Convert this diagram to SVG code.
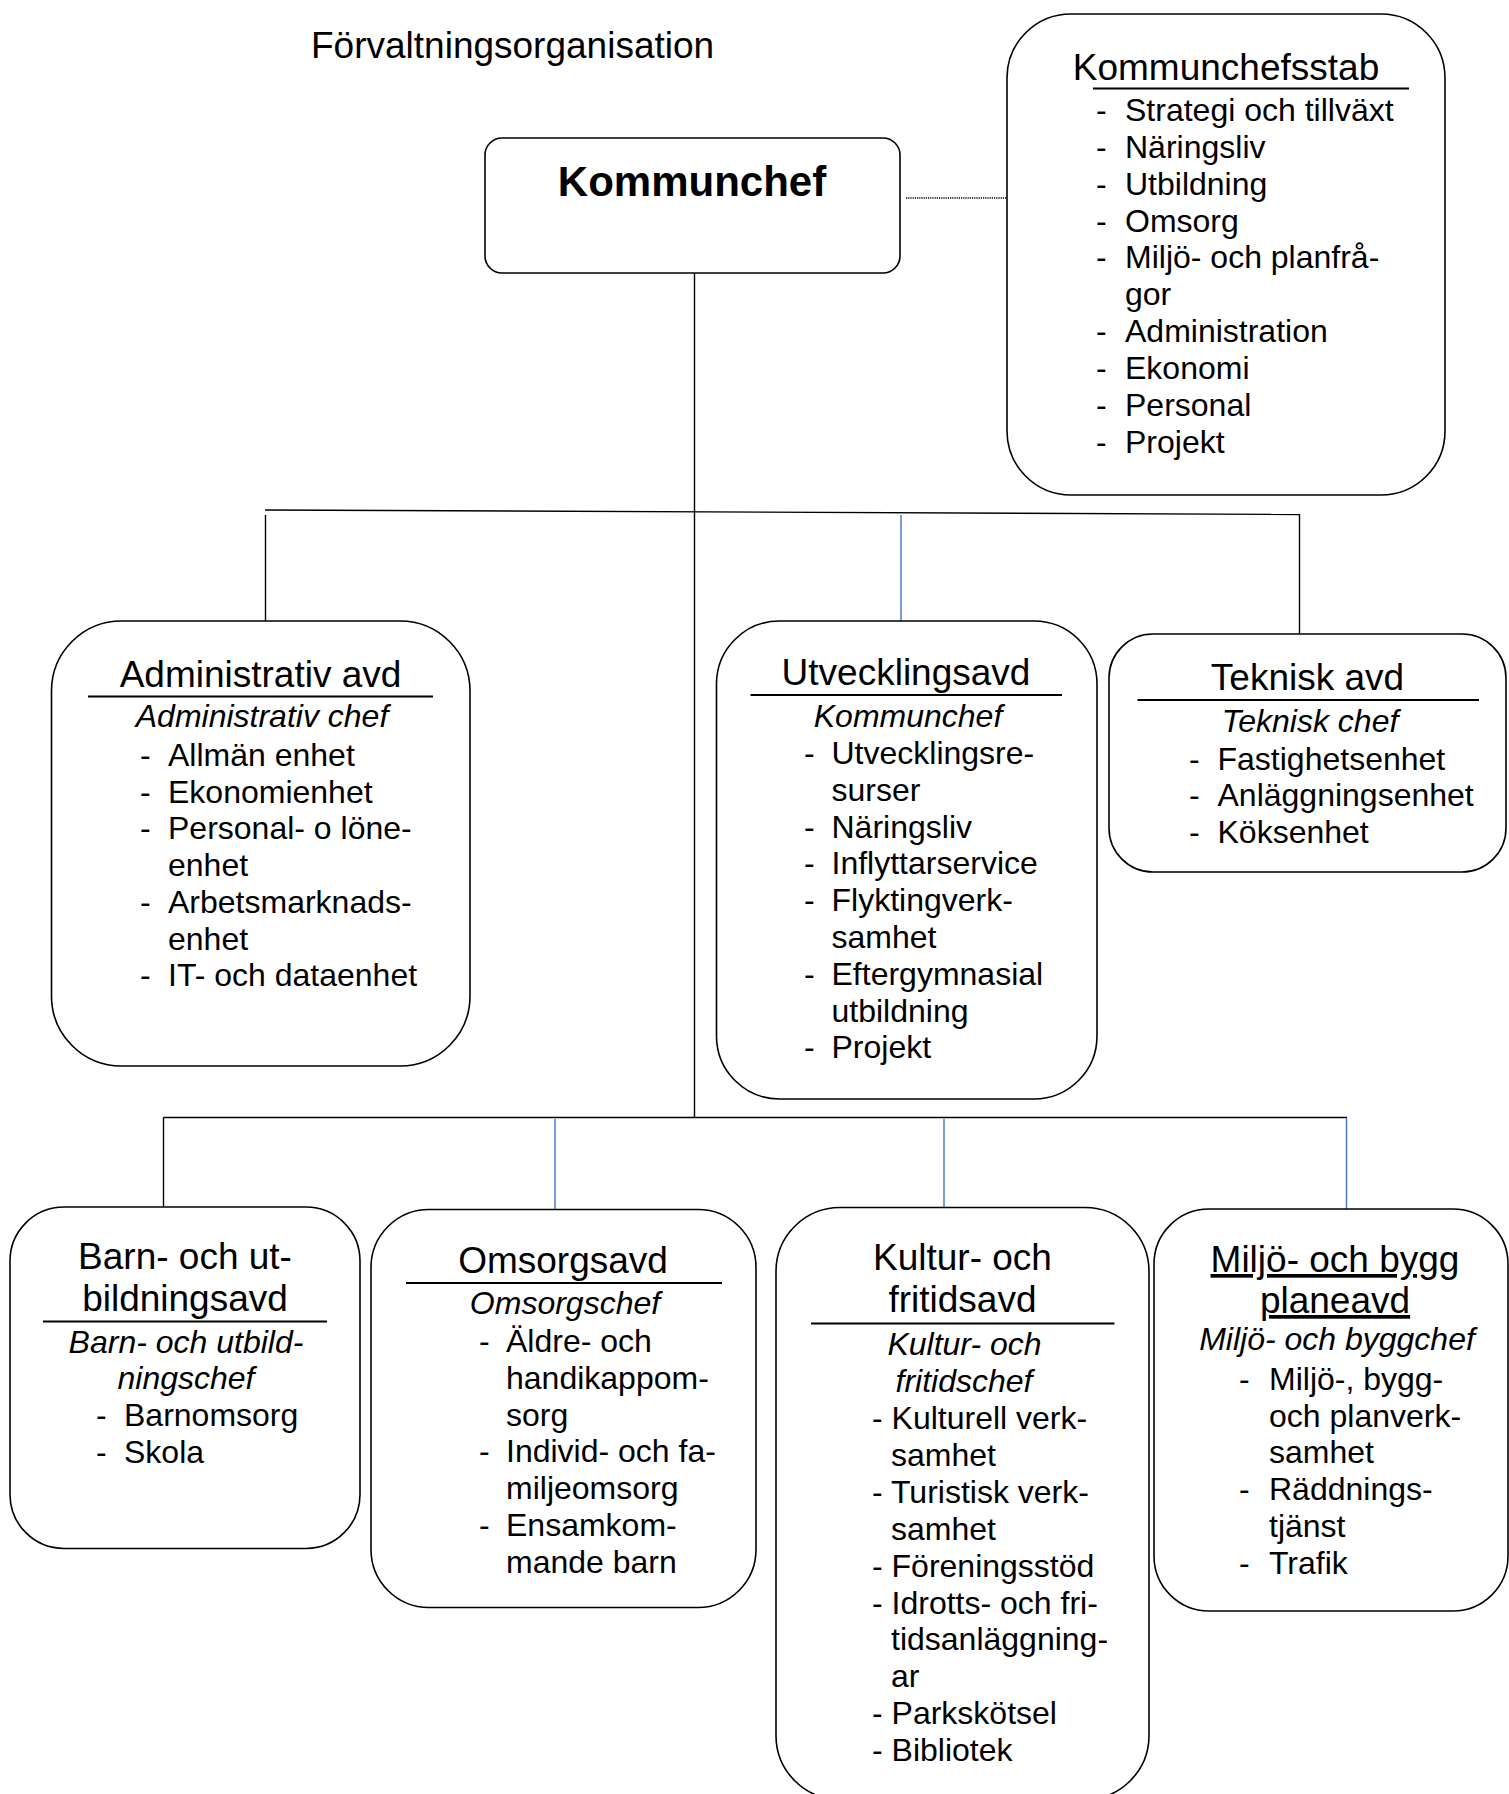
<svg xmlns="http://www.w3.org/2000/svg" width="1509" height="1794" viewBox="0 0 1509 1794">
<style>
text{font-family:"Liberation Sans",Arial,sans-serif;fill:#000}
.box{fill:#fff;stroke:#000;stroke-width:1.6}
.h{font-size:37px;text-anchor:middle}
.ch{font-size:32px;font-style:italic;text-anchor:middle}
.it{font-size:32px}
.ul{stroke:#000;stroke-width:2}
.k{stroke:#000;stroke-width:1.4;fill:none}
.b{stroke:#4472C4;stroke-width:1.4;fill:none}
</style>
<rect width="1509" height="1794" fill="#fff"/>
<text x="311" y="58" style="font-size:37px">Förvaltningsorganisation</text>

<g id="connectors">
<line class="k" x1="694.5" y1="273" x2="694.5" y2="1118"/>
<line class="k" x1="265" y1="510" x2="1300" y2="514.5"/>
<line class="k" x1="265.5" y1="515" x2="265.5" y2="621"/>
<line class="b" x1="901" y1="515" x2="901" y2="621"/>
<line class="k" x1="1299.5" y1="514.5" x2="1299.5" y2="634"/>
<line class="k" x1="163.5" y1="1117.5" x2="1347" y2="1117.5"/>
<line class="k" x1="163.5" y1="1117.5" x2="163.5" y2="1207"/>
<line class="b" x1="555" y1="1119" x2="555" y2="1209"/>
<line class="b" x1="944" y1="1119" x2="944" y2="1207"/>
<line class="b" x1="1346.5" y1="1118" x2="1346.5" y2="1220"/>
<line x1="906" y1="198" x2="1007" y2="198" stroke="#000" stroke-width="1.5" stroke-dasharray="1.2 1"/>
</g>

<g id="kommunchef">
<rect class="box" x="485" y="138" width="415" height="135" rx="17"/>
<text x="692" y="196" style="font-size:42px;font-weight:bold;text-anchor:middle">Kommunchef</text>
</g>

<g id="kommunchefsstab">
<rect class="box" x="1007" y="14" width="438" height="481" rx="64"/>
<text class="h" x="1226" y="80">Kommunchefsstab</text>
<line class="ul" x1="1093" y1="88.5" x2="1409" y2="88.5"/>
<g class="it">
<text x="1096" y="121">-</text><text x="1125" y="121">Strategi och tillväxt</text>
<text x="1096" y="158">-</text><text x="1125" y="158">Näringsliv</text>
<text x="1096" y="195">-</text><text x="1125" y="195">Utbildning</text>
<text x="1096" y="232">-</text><text x="1125" y="232">Omsorg</text>
<text x="1096" y="268">-</text><text x="1125" y="268">Miljö- och planfrå-</text>
<text x="1125" y="305">gor</text>
<text x="1096" y="342">-</text><text x="1125" y="342">Administration</text>
<text x="1096" y="379">-</text><text x="1125" y="379">Ekonomi</text>
<text x="1096" y="416">-</text><text x="1125" y="416">Personal</text>
<text x="1096" y="453">-</text><text x="1125" y="453">Projekt</text>
</g>
</g>

<g id="administrativ">
<rect class="box" x="51.5" y="621" width="418.5" height="445" rx="70"/>
<text class="h" x="260.5" y="687">Administrativ avd</text>
<line class="ul" x1="88" y1="696.5" x2="433" y2="696.5"/>
<text class="ch" x="262" y="727">Administrativ chef</text>
<g class="it">
<text x="140" y="766">-</text><text x="168" y="766">Allmän enhet</text>
<text x="140" y="802.7">-</text><text x="168" y="802.7">Ekonomienhet</text>
<text x="140" y="839.4">-</text><text x="168" y="839.4">Personal- o löne-</text>
<text x="168" y="876">enhet</text>
<text x="140" y="912.8">-</text><text x="168" y="912.8">Arbetsmarknads-</text>
<text x="168" y="949.5">enhet</text>
<text x="140" y="986">-</text><text x="168" y="986">IT- och dataenhet</text>
</g>
</g>

<g id="utveckling">
<rect class="box" x="716.5" y="621" width="380.5" height="478" rx="63"/>
<text class="h" x="906" y="685">Utvecklingsavd</text>
<line class="ul" x1="750.5" y1="695" x2="1062" y2="695"/>
<text class="ch" x="908" y="727">Kommunchef</text>
<g class="it">
<text x="804" y="764">-</text><text x="831.5" y="764">Utvecklingsre-</text>
<text x="831.5" y="800.8">surser</text>
<text x="804" y="837.6">-</text><text x="831.5" y="837.6">Näringsliv</text>
<text x="804" y="874.4">-</text><text x="831.5" y="874.4">Inflyttarservice</text>
<text x="804" y="911.2">-</text><text x="831.5" y="911.2">Flyktingverk-</text>
<text x="831.5" y="948">samhet</text>
<text x="804" y="984.8">-</text><text x="831.5" y="984.8">Eftergymnasial</text>
<text x="831.5" y="1021.6">utbildning</text>
<text x="804" y="1058.4">-</text><text x="831.5" y="1058.4">Projekt</text>
</g>
</g>

<g id="teknisk">
<rect class="box" x="1109" y="634" width="397" height="238" rx="44"/>
<text class="h" x="1307.5" y="690">Teknisk avd</text>
<line class="ul" x1="1137.5" y1="700" x2="1479" y2="700"/>
<text class="ch" x="1310" y="731.5">Teknisk chef</text>
<g class="it">
<text x="1189" y="769.6">-</text><text x="1217.5" y="769.6">Fastighetsenhet</text>
<text x="1189" y="806.3">-</text><text x="1217.5" y="806.3">Anläggningsenhet</text>
<text x="1189" y="843">-</text><text x="1217.5" y="843">Köksenhet</text>
</g>
</g>

<g id="barn">
<rect class="box" x="10" y="1207" width="350" height="341.5" rx="54"/>
<text class="h" x="185" y="1269">Barn- och ut-</text>
<text class="h" x="185" y="1311">bildningsavd</text>
<line class="ul" x1="43" y1="1321.5" x2="327" y2="1321.5"/>
<text class="ch" x="186" y="1353">Barn- och utbild-</text>
<text class="ch" x="186" y="1389">ningschef</text>
<g class="it">
<text x="96" y="1426">-</text><text x="124" y="1426">Barnomsorg</text>
<text x="96" y="1463">-</text><text x="124" y="1463">Skola</text>
</g>
</g>

<g id="omsorg">
<rect class="box" x="371" y="1209.5" width="385" height="398" rx="58"/>
<text class="h" x="563" y="1273.4">Omsorgsavd</text>
<line class="ul" x1="406" y1="1283" x2="722" y2="1283"/>
<text class="ch" x="565" y="1314">Omsorgschef</text>
<g class="it">
<text x="479" y="1352">-</text><text x="506" y="1352">Äldre- och</text>
<text x="506" y="1388.8">handikappom-</text>
<text x="506" y="1425.6">sorg</text>
<text x="479" y="1462.4">-</text><text x="506" y="1462.4">Individ- och fa-</text>
<text x="506" y="1499.2">miljeomsorg</text>
<text x="479" y="1536">-</text><text x="506" y="1536">Ensamkom-</text>
<text x="506" y="1572.8">mande barn</text>
</g>
</g>

<g id="kultur">
<rect class="box" x="776" y="1207.5" width="373" height="592" rx="64"/>
<text class="h" x="962.5" y="1269.6">Kultur- och</text>
<text class="h" x="962.5" y="1312">fritidsavd</text>
<line class="ul" x1="811" y1="1323.5" x2="1114.5" y2="1323.5"/>
<text class="ch" x="964.5" y="1355">Kultur- och</text>
<text class="ch" x="964" y="1391.7">fritidschef</text>
<g class="it">
<text x="872" y="1429">- Kulturell verk-</text>
<text x="891" y="1465.9">samhet</text>
<text x="872" y="1502.8">- Turistisk verk-</text>
<text x="891" y="1539.7">samhet</text>
<text x="872" y="1576.6">- Föreningsstöd</text>
<text x="872" y="1613.5">- Idrotts- och fri-</text>
<text x="891" y="1650.4">tidsanläggning-</text>
<text x="891" y="1687.3">ar</text>
<text x="872" y="1724.2">- Parkskötsel</text>
<text x="872" y="1761.1">- Bibliotek</text>
</g>
</g>

<g id="miljo">
<rect class="box" x="1154" y="1209" width="354" height="402" rx="55"/>
<text class="h" x="1335" y="1272" text-decoration="underline">Miljö- och bygg</text>
<text class="h" x="1335" y="1313" text-decoration="underline">planeavd</text>
<text class="ch" x="1337" y="1350">Miljö- och byggchef</text>
<g class="it">
<text x="1239" y="1390">-</text><text x="1269" y="1390">Miljö-, bygg-</text>
<text x="1269" y="1426.7">och planverk-</text>
<text x="1269" y="1463.4">samhet</text>
<text x="1239" y="1500.1">-</text><text x="1269" y="1500.1">Räddnings-</text>
<text x="1269" y="1536.8">tjänst</text>
<text x="1239" y="1573.5">-</text><text x="1269" y="1573.5">Trafik</text>
</g>
</g>
</svg>
